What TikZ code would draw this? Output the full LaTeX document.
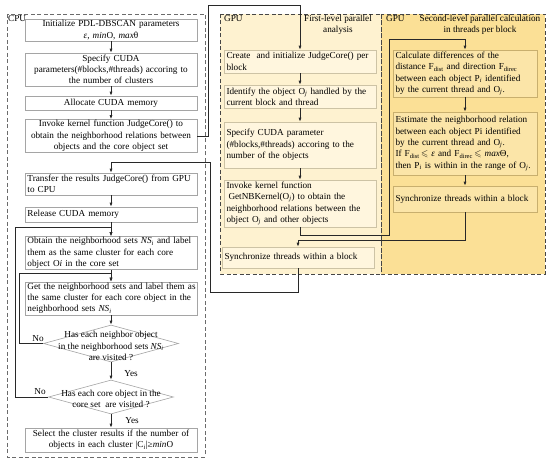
\documentclass[tikz,border=0pt]{standalone}
\usepackage{amssymb}
\usepackage{fontspec}
\setmainfont{Liberation Serif}
\usetikzlibrary{arrows.meta,shapes.geometric}
\definecolor{boxgray}{RGB}{165,165,165}
\definecolor{linec}{RGB}{40,40,40}
\definecolor{gpuA}{RGB}{254,242,208}
\definecolor{gpuB}{RGB}{251,224,150}
\definecolor{boxA}{RGB}{255,246,222}
\definecolor{boxAd}{RGB}{205,195,165}
\definecolor{boxB}{RGB}{251,229,168}
\definecolor{boxBd}{RGB}{200,175,110}
\definecolor{dashc}{RGB}{70,70,70}
\newcommand{\figfont}{\fontsize{9.2}{11.3}\selectfont}
\tikzset{
  basebox/.style={font=\figfont, inner xsep=2.5pt, inner ysep=1pt, line width=0.6pt},
  cpubox/.style={basebox, draw=boxgray, fill=white, inner xsep=1pt, text width=170pt},
  gpuAbox/.style={basebox, draw=boxAd, fill=boxA, text width=147pt, align=left},
  gpuBbox/.style={basebox, draw=boxBd, fill=boxB, text width=139pt, align=left},
  dia/.style={diamond, draw=boxgray, fill=white, line width=0.6pt, inner sep=0pt},
  hdr/.style={font=\figfont, inner sep=0pt},
  lbl/.style={font=\figfont, inner sep=0pt},
  conn/.style={draw=linec, line width=0.7pt, -{Latex[length=4pt,width=3pt]}},
  region/.style={dash pattern=on 4pt off 2.5pt, line width=0.9pt},
}
\begin{document}
\begin{tikzpicture}[x=1pt,y=-1pt]
\useasboundingbox (0,0) rectangle (550,462);
% regions
\draw[region, draw=dashc!80] (7,14) rectangle (205,457);
\fill[gpuA] (220,14) rectangle (381,274);
\fill[gpuB] (381,14) rectangle (545,274);
\draw[region, draw=dashc] (220,14) rectangle (381,274);
\draw[region, draw=dashc] (381,14) rectangle (545,274);
% headers
\node[hdr, anchor=west] (cpul) at (8,19) {CPU};
\node[hdr, anchor=west] (gpul1) at (224,19) {GPU};
\node[hdr, align=center] (gpuh1) at (338,24.5) {First-level parallel\\analysis};
\node[hdr, anchor=west] (gpul2) at (386,19) {GPU};
\node[hdr, align=center] (gpuh2) at (480,25) {Second-level parallel calculation\\in threads per block};
% CPU column
\node[cpubox, align=center, minimum height=22pt] (init) at (111,30) {Initialize PDL-DBSCAN parameters\\\textit{ε}, \textit{min}O, \textit{max}θ};
\node[cpubox, align=center, minimum height=33pt] (spec) at (111,69.5) {Specify CUDA\\parameters(\#blocks,\#threads) accoring to\\the number of clusters};
\node[cpubox, align=center, minimum height=14pt] (alloc) at (111,103) {Allocate CUDA memory};
\node[cpubox, align=center, minimum height=32pt] (invk) at (111,136) {Invoke kernel function JudgeCore() to\\obtain the neighborhood relations between\\objects and the core object set};
\node[cpubox, align=left, minimum height=22pt] (trans) at (111,184) {\hspace*{1.5pt}Transfer the results JudgeCore() from GPU\\\hspace*{1.5pt}to CPU};
\node[cpubox, align=left, minimum height=15pt] (rel) at (111,214.5) {\hspace*{1.5pt}Release CUDA memory};
\node[cpubox, align=left, minimum height=32pt] (obt) at (111,253) {\hspace*{1.5pt}Obtain the neighborhood sets \textit{NS}\textsubscript{\textit{i}} and label\\\hspace*{1.5pt}them as the same cluster for each core\\\hspace*{1.5pt}object O\textit{i} in the core set};
\node[cpubox, align=left, minimum height=33pt] (get) at (111,298.5) {\hspace*{1.5pt}Get the neighborhood sets and label them as\\\hspace*{1.5pt}the same cluster for each core object in the\\\hspace*{1.5pt}neighborhood sets \textit{NS}\textsubscript{\textit{i}}};
\node[dia, minimum width=135pt, minimum height=37pt] (d1) at (111,343.5) {};
\node[lbl, align=center] (d1t) at (111,346) {Has each neighbor object\\in the neighborhood sets \textit{NS}\textsubscript{\textit{i}}\\are visited ?};
\node[dia, minimum width=125pt, minimum height=34pt] (d2) at (111,397) {};
\node[lbl, align=center] (d2t) at (111,399) {Has each core object in the\\core set\ \ are visited ?};
\node[cpubox, align=center, minimum height=24pt] (final) at (111,440) {Select the cluster results if the number of\\objects in each cluster |C\textsubscript{\textit{i}}|≥\textit{min}O};
% GPU first level
\node[gpuAbox, minimum height=23pt] (create) at (300,61.5) {Create\ \ and initialize JudgeCore() per\\block};
\node[gpuAbox, minimum height=23pt] (ident) at (300,96.5) {Identify the object O\textsubscript{\textit{j}} handled by the\\current block and thread};
\node[gpuAbox, minimum height=46pt] (spec2) at (300,145) {Specify CUDA parameter\\(\#blocks,\#threads) accoring to the\\number of the objects};
\node[gpuAbox, minimum height=47pt] (invk2) at (300,203.5) {Invoke kernel function\\\hspace*{2pt}GetNBKernel(O\textsubscript{\textit{j}}) to obtain the\\neighborhood relations between the\\object O\textsubscript{\textit{j}} and other objects};
\node[gpuAbox, minimum height=21pt] (sync1) at (298,257.5) {Synchronize threads within a block};
% GPU second level
\node[gpuBbox, minimum height=47pt] (calc) at (465,73.5) {Calculate differences of the\\distance F\textsubscript{dist} and direction F\textsubscript{direc}\\between each object P\textsubscript{\textit{i}} identified\\by the current thread and O\textsubscript{\textit{j}}.};
\node[gpuBbox, minimum height=63pt] (est) at (465,143.5) {Estimate the neighborhood relation\\between each object Pi identified\\by the current thread and O\textsubscript{\textit{j}}.\\If F\textsubscript{dist}\,$\leqslant$ \textit{ε} and F\textsubscript{direc}\,$\leqslant$ \textit{max}Θ,\\then P\textsubscript{\textit{i}} is within in the range of O\textsubscript{\textit{j}}.};
\node[gpuBbox, minimum height=26pt] (sync2) at (465,199) {Synchronize threads within a block};
% labels
\node[lbl] (no1) at (38,339) {No};
\node[lbl] (no2) at (40,392) {No};
\node[lbl] (yes1) at (131,374) {Yes};
\node[lbl] (yes2) at (132,421) {Yes};
% straight connectors
\draw[conn] (init.south) -- (spec.north);
\draw[conn] (spec.south) -- (alloc.north);
\draw[conn] (alloc.south) -- (invk.north);
\draw[conn] (trans.south) -- (rel.north);
\draw[conn] (rel.south) -- (obt.north);
\draw[conn] (obt.south) -- (get.north);
\draw[conn] (get.south) -- (d1.north);
\draw[conn] (d1.south) -- (d2.north);
\draw[conn] (d2.south) -- (final.north);
\draw[conn] (create.south) -- (ident.north);
\draw[conn] (ident.south) -- (spec2.north);
\draw[conn] (spec2.south) -- (invk2.north);
\draw[conn] (calc.south) -- (est.north);
\draw[conn] (est.south) -- (sync2.north);
% routed connectors
\coordinate (c1) at (208,5);
\draw[conn] (invk.east) -| (c1) -| (create.north);
\coordinate (c2) at (389,235);
\coordinate (c3) at (389,39);
\draw[conn] (invk2.south) |- (c2) -- (c3) -| (calc.north);
\coordinate (c4) at (298,240);
\draw[conn] (sync2.south) |- (c4) -- (c4 |- sync1.north);
\coordinate (c5) at (210,292);
\coordinate (c6) at (210,162);
\draw[conn] (sync1.south) |- (c5) -- (c6) -| (trans.north);
\coordinate (c7) at (19,273);
\draw[conn] (d1.west) -| (c7) -| (get.north);
\coordinate (c8) at (15,227);
\draw[conn] (d2.west) -| (c8) -| (obt.north);
\end{tikzpicture}
\end{document}
